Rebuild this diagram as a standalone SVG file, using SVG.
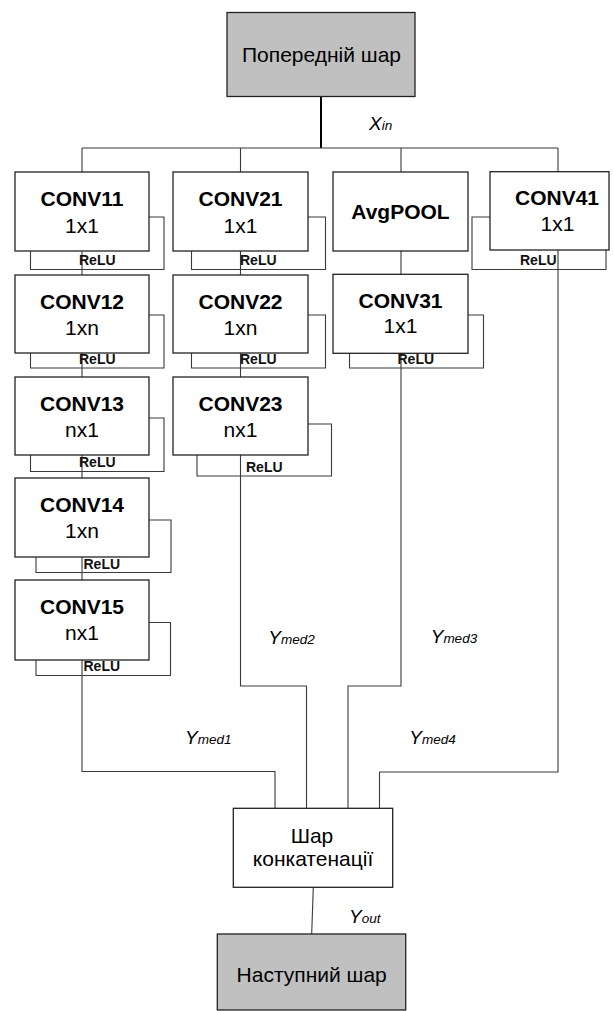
<svg xmlns="http://www.w3.org/2000/svg" width="614" height="1011" viewBox="0 0 614 1011">
<style>
.box{fill:#fff;stroke:#222;stroke-width:1.3}
.gray{fill:#c0c0c0;stroke:#222;stroke-width:1.3}
.ln{fill:none;stroke:#3a3a3a;stroke-width:1.1}
.thick{fill:none;stroke:#000;stroke-width:2}
.t{font-family:"Liberation Sans",Arial,sans-serif;font-size:21px;fill:#000;text-anchor:middle}
.b{font-weight:bold}
.relu{font-family:"Liberation Sans",Arial,sans-serif;font-size:14px;font-weight:bold;fill:#111}
.lab{font-family:"Liberation Sans",Arial,sans-serif;font-style:italic;font-size:19px;fill:#000}
.sub{font-size:13.5px}
</style>
<rect width="614" height="1011" fill="#fff"/>
<g id="connectors">
<path class="thick" d="M321,96 V148"/>
<path class="ln" d="M82,148 H558 M82,148 V172 M240.5,148 V172 M401,148 V172 M558,148 V172"/>
<path class="ln" d="M82,251 V275 M82,353 V377 M82,455 V478 M82,557 V580 M82,660 V771.5 H275 V808"/>
<path class="ln" d="M240.5,251 V275 M240.5,353 V377 M240.5,455 V686 H306.5 V808"/>
<path class="ln" d="M401,251 V274 M401,353 V686 H348 V808"/>
<path class="ln" d="M558,250 V772 H379.5 V808"/>
<path class="ln" d="M313.3,887 L311.7,934"/>
<path class="ln" d="M149,217 H164 V269.5 H30.5 V251"/>
<path class="ln" d="M149,315 H164 V368 H30.5 V353"/>
<path class="ln" d="M149,418 H164 V471.5 H30.5 V455"/>
<path class="ln" d="M149,520 H171 V572.5 H36 V557"/>
<path class="ln" d="M149,622.5 H170.5 V675.5 H36 V660"/>
<path class="ln" d="M308,217 H325.5 V269.5 H191.5 V251"/>
<path class="ln" d="M308,315 H325.5 V368 H191.5 V353"/>
<path class="ln" d="M308,424 H331.5 V476 H197 V455"/>
<path class="ln" d="M468,315 H483.5 V368 H349.5 V353"/>
<path class="ln" d="M490,217 H472 V269.5 H606 V250"/>
<text class="relu" x="79" y="265">ReLU</text>
<text class="relu" x="79" y="364">ReLU</text>
<text class="relu" x="79" y="466.5">ReLU</text>
<text class="relu" x="83.5" y="569">ReLU</text>
<text class="relu" x="83.5" y="670.5">ReLU</text>
<text class="relu" x="240" y="264.5">ReLU</text>
<text class="relu" x="240" y="363.5">ReLU</text>
<text class="relu" x="246" y="471.5">ReLU</text>
<text class="relu" x="397.5" y="364">ReLU</text>
<text class="relu" x="520" y="265">ReLU</text>
<text class="lab" x="369" y="130">X<tspan class="sub">in</tspan></text>
<text class="lab" x="185" y="744.3">Y<tspan class="sub">med1</tspan></text>
<text class="lab" x="268.3" y="644.3">Y<tspan class="sub">med2</tspan></text>
<text class="lab" x="430.7" y="643.3">Y<tspan class="sub">med3</tspan></text>
<text class="lab" x="409.3" y="744">Y<tspan class="sub">med4</tspan></text>
<text class="lab" x="349" y="922.7">Y<tspan class="sub">out</tspan></text>
</g>
<g id="prev"><rect class="gray" x="227" y="12.5" width="188" height="84"/><text class="t" x="321.5" y="61.7">Попередній шар</text></g>
<g id="conv11"><rect class="box" x="15" y="172" width="134" height="79"/><text class="t b" x="82" y="206">CONV11</text><text class="t" x="82" y="232.5">1x1</text></g>
<g id="conv12"><rect class="box" x="15" y="275" width="134" height="78"/><text class="t b" x="82" y="309">CONV12</text><text class="t" x="82" y="335">1xn</text></g>
<g id="conv13"><rect class="box" x="15" y="377" width="134" height="78"/><text class="t b" x="82" y="411">CONV13</text><text class="t" x="82" y="437">nx1</text></g>
<g id="conv14"><rect class="box" x="15" y="478" width="134" height="79"/><text class="t b" x="82" y="512.3">CONV14</text><text class="t" x="82" y="537.7">1xn</text></g>
<g id="conv15"><rect class="box" x="15" y="580" width="134" height="80"/><text class="t b" x="82" y="614">CONV15</text><text class="t" x="82" y="640">nx1</text></g>
<g id="conv21"><rect class="box" x="173" y="172" width="135" height="79"/><text class="t b" x="240.5" y="206">CONV21</text><text class="t" x="240.5" y="232.5">1x1</text></g>
<g id="conv22"><rect class="box" x="173" y="275" width="135" height="78"/><text class="t b" x="240.5" y="309">CONV22</text><text class="t" x="240.5" y="335">1xn</text></g>
<g id="conv23"><rect class="box" x="173" y="377" width="135" height="78"/><text class="t b" x="240.5" y="411">CONV23</text><text class="t" x="240.5" y="437">nx1</text></g>
<g id="avgpool"><rect class="box" x="333" y="172" width="135" height="79"/><text class="t b" x="400.5" y="218.5">AvgPOOL</text></g>
<g id="conv31"><rect class="box" x="333" y="274.3" width="135" height="79"/><text class="t b" x="400.5" y="307.7">CONV31</text><text class="t" x="400.5" y="333.3">1x1</text></g>
<g id="conv41"><rect class="box" x="490" y="171.7" width="119" height="78.3"/><text class="t b" x="557" y="205">CONV41</text><text class="t" x="557.5" y="231">1x1</text></g>
<g id="concat"><rect class="box" x="233.3" y="808.3" width="159.4" height="79"/><text class="t" x="312" y="843.3">Шар</text><text class="t" x="313" y="866">конкатенації</text></g>
<g id="next"><rect class="gray" x="217.3" y="934" width="188.4" height="76"/><text class="t" x="311.7" y="981.7">Наступний шар</text></g>
</svg>
